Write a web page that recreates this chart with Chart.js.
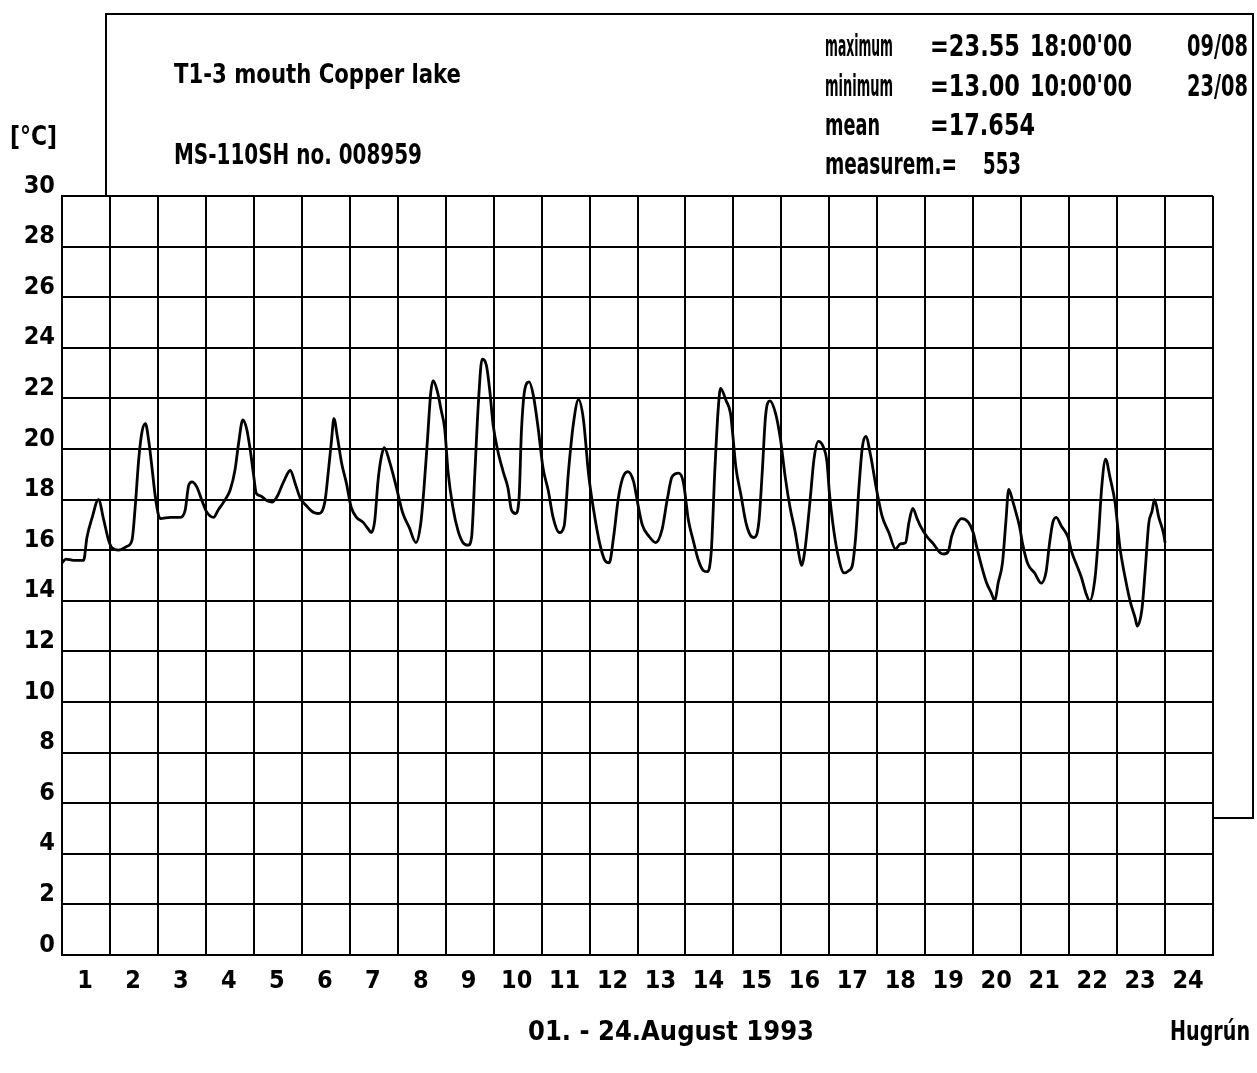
<!DOCTYPE html>
<html>
<head>
<meta charset="utf-8">
<script src="https://cdn.jsdelivr.net/npm/chart.js@4.4.0/dist/chart.umd.min.js"></script>
<style>
html, body { margin: 0; padding: 0; background: #fff; }
</style>
</head>
<body>
<canvas id="tempChart" width="1257" height="1073"></canvas>
<script>
// time in days since 01.08. 00:00 and water temperature [°C]
var days = [
    0.00, 0.08, 0.24, 0.45, 0.52, 0.63, 0.76, 0.87, 0.97, 1.04, 1.18, 1.35, 1.46, 1.53, 1.60, 1.67, 1.74, 1.81, 1.88, 1.94,
    2.01, 2.05, 2.26, 2.47, 2.57, 2.64, 2.71, 2.81, 2.92, 3.02, 3.16, 3.26, 3.37, 3.51, 3.61, 3.68, 3.77, 3.85, 3.93,
    4.00, 4.05, 4.14, 4.28, 4.38, 4.48, 4.62, 4.76, 4.86, 4.97, 5.10, 5.24, 5.34, 5.48, 5.55, 5.62, 5.67, 5.74, 5.83, 5.93,
    6.03, 6.14, 6.28, 6.38, 6.45, 6.52, 6.59, 6.66, 6.72, 6.83, 6.97, 7.10, 7.24, 7.38, 7.48, 7.55, 7.62, 7.69, 7.74, 7.83, 7.91, 7.98,
    8.05, 8.15, 8.26, 8.36, 8.47, 8.54, 8.61, 8.68, 8.76, 8.85, 8.92, 8.99, 9.09, 9.20, 9.30, 9.37, 9.46, 9.53, 9.58, 9.65, 9.74, 9.83, 9.93,
    10.03, 10.14, 10.24, 10.37, 10.47, 10.56, 10.66, 10.77, 10.87, 10.98, 11.08, 11.22, 11.32, 11.41, 11.50, 11.60, 11.69, 11.80, 11.92,
    12.00, 12.10, 12.24, 12.38, 12.51, 12.62, 12.72, 12.86, 12.96, 13.06, 13.16, 13.27, 13.37, 13.46, 13.54, 13.61, 13.68, 13.73, 13.85, 13.94, 13.99,
    14.05, 14.16, 14.26, 14.35, 14.43, 14.53, 14.60, 14.67, 14.76, 14.88, 14.98, 15.08, 15.18, 15.29, 15.36, 15.42, 15.49, 15.60, 15.68, 15.77, 15.87, 15.95,
    16.00, 16.07, 16.17, 16.31, 16.41, 16.48, 16.55, 16.62, 16.69, 16.76, 16.86, 16.97, 17.10, 17.24, 17.38, 17.48, 17.59, 17.66, 17.74, 17.83, 17.90,
    18.03, 18.17, 18.31, 18.39, 18.48, 18.55, 18.66, 18.76, 18.90, 19.00, 19.07, 19.17, 19.28, 19.38, 19.45, 19.52, 19.61, 19.68, 19.74, 19.83, 19.86, 19.97,
    20.03, 20.14, 20.28, 20.42, 20.52, 20.59, 20.66, 20.73, 20.84, 20.98, 21.05, 21.15, 21.26, 21.36, 21.43, 21.54, 21.61, 21.68, 21.76, 21.85, 21.96,
    22.06, 22.17, 22.27, 22.38, 22.42, 22.52, 22.59, 22.66, 22.73, 22.78, 22.87, 22.97, 23.00
];
var temps = [
    15.5, 15.65, 15.6, 15.6, 16.5, 17.3, 18.0, 17.2, 16.4, 16.1, 16.0, 16.15, 16.4, 17.8, 19.6, 20.7, 21.0, 20.3, 19.2, 18.2,
    17.4, 17.25, 17.3, 17.3, 17.6, 18.55, 18.7, 18.5, 17.95, 17.5, 17.3, 17.6, 17.9, 18.4, 19.2, 20.2, 21.15, 20.8, 19.9,
    18.9, 18.25, 18.15, 17.95, 17.9, 18.1, 18.7, 19.15, 18.65, 18.05, 17.75, 17.5, 17.45, 17.9, 19.05, 20.35, 21.2, 20.5, 19.45, 18.65,
    17.7, 17.3, 17.1, 16.85, 16.7, 17.15, 18.75, 19.7, 20.05, 19.5, 18.5, 17.5, 16.9, 16.3, 17.05, 18.5, 20.35, 22.25, 22.7, 22.25, 21.5, 20.8,
    19.1, 17.7, 16.75, 16.3, 16.2, 16.5, 19.1, 21.75, 23.55, 23.3, 22.3, 20.95, 19.9, 19.1, 18.45, 17.6, 17.45, 18.05, 20.7, 22.35, 22.65, 22.1, 20.8,
    19.25, 18.35, 17.3, 16.7, 16.95, 19.1, 20.95, 21.95, 21.2, 19.0, 17.65, 16.2, 15.6, 15.5, 16.5, 18.05, 18.85, 19.1, 18.7,
    17.9, 17.0, 16.55, 16.3, 16.8, 18.0, 18.9, 19.05, 18.65, 17.2, 16.4, 15.6, 15.2, 15.15, 16.0, 19.05, 21.5, 22.4, 21.9, 21.4, 20.5,
    19.3, 18.15, 17.1, 16.6, 16.5, 17.1, 19.05, 21.3, 21.9, 21.4, 20.4, 18.9, 17.7, 16.7, 15.9, 15.4, 16.0, 18.0, 19.6, 20.3, 20.1, 19.5,
    18.3, 17.1, 15.9, 15.1, 15.2, 15.4, 16.55, 18.55, 20.1, 20.5, 19.75, 18.55, 17.35, 16.7, 16.05, 16.25, 16.3, 17.1, 17.65, 17.25, 16.95,
    16.55, 16.25, 15.9, 15.85, 15.95, 16.55, 17.05, 17.25, 17.1, 16.7, 16.15, 15.4, 14.7, 14.3, 14.0, 14.7, 15.5, 17.1, 18.4, 17.9, 17.7, 16.9,
    16.25, 15.45, 15.1, 14.7, 15.15, 16.25, 17.1, 17.3, 16.95, 16.5, 15.95, 15.45, 14.9, 14.25, 14.0, 14.9, 16.5, 18.5, 19.6, 18.9, 17.85,
    16.1, 14.9, 14.0, 13.3, 13.0, 13.7, 15.3, 17.05, 17.55, 18.0, 17.3, 16.65, 16.3
];
var dayLabels = ['1', '2', '3', '4', '5', '6', '7', '8', '9', '10', '11', '12',
    '13', '14', '15', '16', '17', '18', '19', '20', '21', '22', '23', '24'];
var yTicks = [0, 2, 4, 6, 8, 10, 12, 14, 16, 18, 20, 22, 24, 26, 28, 30];

var FONT = '"Liberation Sans Narrow", "DejaVu Sans Condensed", sans-serif';

// texts printed around the grid (text, x, baseline y, size, max width)
var headerTexts = [
    ['T1-3 mouth Copper lake', 174, 83, 27, 287],
    ['MS-110SH no. 008959', 174, 164, 29, 248],
    ['[°C]', 10, 145, 26, 47],
    ['maximum', 825, 56, 30, 68], ['=23.55', 930, 56, 30, 90], ["18:00'00", 1030, 56, 30, 102], ['09/08', 1187, 56, 30, 61],
    ['minimum', 825, 96, 30, 68], ['=13.00', 930, 96, 30, 90], ["10:00'00", 1030, 96, 30, 102], ['23/08', 1187, 96, 30, 61],
    ['mean', 825, 135, 30, 55], ['=17.654', 930, 135, 30, 105],
    ['measurem.=', 825, 174, 30, 132], ['553', 983, 174, 30, 38],
    ['01. - 24.August 1993', 528, 1040, 27, 290],
    ['Hugrún', 1170, 1040, 27, 80]
];

var paperPlugin = {
    id: 'paper',
    beforeDraw: function(chart) {
        var ctx = chart.ctx;
        var a = chart.chartArea;
        ctx.save();
        ctx.fillStyle = '#fff';
        ctx.fillRect(0, 0, chart.width, chart.height);
        // frame of the header sheet behind the grid
        ctx.strokeStyle = '#000';
        ctx.lineWidth = 2;
        ctx.strokeRect(106, 14, 1147, 804);
        ctx.fillRect(a.left, a.top, a.right - a.left, a.bottom - a.top);
        ctx.restore();
    },
    afterDraw: function(chart) {
        var ctx = chart.ctx;
        ctx.save();
        ctx.fillStyle = '#000';
        ctx.textBaseline = 'alphabetic';
        ctx.textAlign = 'left';
        headerTexts.forEach(function(t) {
            ctx.font = 'bold ' + t[3] + 'px ' + FONT;
            ctx.fillText(t[0], t[1], t[2], t[4]);
        });
        ctx.restore();
    }
};

var ctx = document.getElementById('tempChart');
var tempChart = new Chart(ctx, {
    type: 'line',
    data: {
        datasets: [{
            label: 'T1-3',
            data: days.map(function(d, i) { return { x: d, y: temps[i] }; }),
            borderColor: '#000',
            borderWidth: 2.8,
            pointRadius: 0,
            fill: false,
            cubicInterpolationMode: 'monotone'
        }]
    },
    options: {
        responsive: false,
        animation: false,
        devicePixelRatio: 1,
        layout: {
            padding: { left: 0, top: 196, right: 44, bottom: 68 }
        },
        plugins: {
            legend: { display: false },
            tooltip: { enabled: false }
        },
        scales: {
            x: {
                type: 'linear',
                min: 0,
                max: 24,
                afterBuildTicks: function(scale) {
                    var t = [];
                    for (var i = 0; i <= dayLabels.length; i++) t.push({ value: i });
                    scale.ticks = t;
                },
                afterFit: function(scale) { scale.height = 50; },
                grid: { color: '#000', lineWidth: 2, drawTicks: false },
                border: { color: '#000', width: 2 },
                ticks: {
                    autoSkip: false,
                    maxRotation: 0,
                    padding: 11,
                    labelOffset: 23,
                    color: '#000',
                    font: { family: FONT, size: 25, weight: 'bold' },
                    callback: function(v, i) { return i < dayLabels.length ? dayLabels[i] : ''; }
                }
            },
            y: {
                min: 0,
                max: 30,
                afterBuildTicks: function(scale) {
                    scale.ticks = yTicks.map(function(v) { return { value: v }; });
                },
                afterFit: function(scale) { scale.width = 62; },
                grid: { color: '#000', lineWidth: 2, drawTicks: false },
                border: { color: '#000', width: 2 },
                ticks: {
                    padding: 7,
                    labelOffset: -10,
                    color: '#000',
                    font: { family: FONT, size: 25, weight: 'bold' },
                    callback: function(v) { return String(v); }
                }
            }
        }
    },
    plugins: [paperPlugin]
});
</script>
</body>
</html>
